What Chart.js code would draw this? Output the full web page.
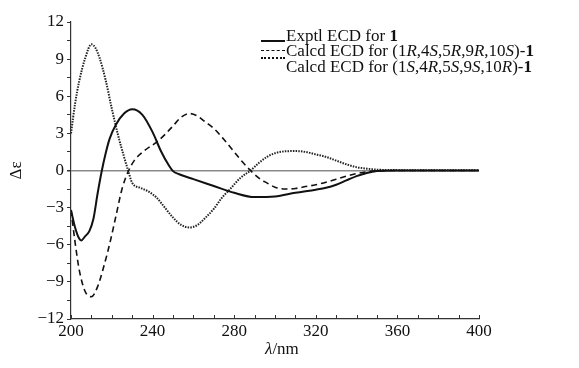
<!DOCTYPE html>
<html>
<head>
<meta charset="utf-8">
<script src="https://cdn.jsdelivr.net/npm/chart.js@4"></script>
<style>
  html, body { margin: 0; padding: 0; background: #fff; }
  #wrap { position: relative; width: 579px; height: 368px; font-family: "Liberation Serif", "DejaVu Serif", serif; color: #111; }
  canvas { display: block; }
  .lg { position: absolute; font-size: 17px; line-height: 17px; white-space: nowrap; }
  .sm { position: absolute; width: 24px; height: 0; }
  #xt { position: absolute; left: 265px; top: 339px; font-size: 17px; }
</style>
</head>
<body>
<div id="wrap">
  <canvas id="c" width="579" height="368"></canvas>
  <div class="sm" style="left:261px;top:40px;border-top:2px solid #111"></div>
  <div class="sm" style="left:261px;top:50px;border-top:1.5px dashed #111"></div>
  <div class="sm" style="left:261px;top:57px;border-top:2px dotted #111"></div>
  <div class="lg" style="left:286px;top:27px">Exptl ECD for <b>1</b></div>
  <div class="lg" style="left:286px;top:42px">Calcd ECD for (1<i>R</i>,4<i>S</i>,5<i>R</i>,9<i>R</i>,10<i>S</i>)-<b>1</b></div>
  <div class="lg" style="left:286px;top:58px">Calcd ECD for (1<i>S</i>,4<i>R</i>,5<i>S</i>,9<i>S</i>,10<i>R</i>)-<b>1</b></div>
  <div id="xt"><i>λ</i>/nm</div>
</div>
<script>
// ------------ Données ------------
const wlExp  = [200, 202, 204, 205, 207, 209, 211, 213, 215, 217, 219, 222, 226, 230, 235, 240, 244, 248, 250, 253, 260, 270, 280, 290, 300, 310, 320, 325, 330, 335, 340, 345, 350, 360, 380, 400];
const expVal = [-3.2, -4.6, -5.5, -5.65, -5.3, -4.9, -3.9, -1.9, -0.1, 1.4, 2.6, 3.7, 4.6, 4.95, 4.5, 3.1, 1.6, 0.4, -0.05, -0.3, -0.7, -1.25, -1.8, -2.15, -2.1, -1.8, -1.55, -1.4, -1.15, -0.8, -0.45, -0.2, -0.05, 0, 0, 0];

const wlCalcA  = [200, 202, 204, 207, 210, 213, 216, 219, 222, 225, 228, 231, 236, 242, 246, 250, 254, 258, 262, 266, 270, 275, 280, 284, 288, 292, 296, 300, 305, 310, 315, 320, 325, 330, 335, 340, 345, 350, 360, 380, 400];
const calcAVal = [-3.2, -5.8, -8.0, -9.8, -10.2, -9.4, -7.8, -5.9, -3.7, -1.5, -0.1, 0.8, 1.6, 2.3, 2.9, 3.6, 4.3, 4.6, 4.4, 3.9, 3.4, 2.5, 1.5, 0.7, 0, -0.6, -1.0, -1.35, -1.5, -1.45, -1.3, -1.15, -0.95, -0.7, -0.45, -0.25, -0.1, -0.02, 0, 0, 0];

const wlCalcB  = [200, 202, 204, 207, 210, 212, 214, 217, 220, 223, 226, 228, 230, 234, 238, 242, 246, 250, 254, 258, 262, 266, 270, 274, 278, 283, 288, 292, 296, 300, 305, 310, 315, 320, 325, 330, 335, 340, 345, 350, 360, 380, 400];
const calcBVal = [3.0, 5.4, 7.2, 9.1, 10.2, 9.9, 9.1, 7.3, 5.0, 2.9, 1.1, 0, -1.0, -1.4, -1.7, -2.2, -3.0, -3.8, -4.4, -4.6, -4.4, -3.8, -3.1, -2.2, -1.5, -0.6, 0, 0.6, 1.1, 1.4, 1.55, 1.57, 1.5, 1.3, 1.1, 0.8, 0.5, 0.27, 0.15, 0.07, 0.03, 0.02, 0.02];

const yTickLabels = [-12, -9, -6, -3, 0, 3, 6, 9, 12];
const xTickLabels = [200, 240, 280, 320, 360, 400];

function pts(xs, ys){ return xs.map((x, i) => ({ x, y: ys[i] })); }

// ticks vers l'intérieur pour l'axe des x
const innerTicks = {
  id: "innerTicks",
  afterDraw(chart){
    const x = chart.scales.x, a = chart.chartArea, ctx = chart.ctx;
    ctx.save();
    ctx.strokeStyle = "#333";
    ctx.lineWidth = 1;
    x.ticks.forEach(t => {
      const px = Math.round(x.getPixelForValue(t.value)) + 0.5;
      ctx.beginPath();
      ctx.moveTo(px, a.bottom);
      ctx.lineTo(px, a.bottom - 4);
      ctx.stroke();
    });
    ctx.restore();
  }
};

const font = { family: "'Liberation Serif', serif", size: 17 };

new Chart(document.getElementById("c"), {
  type: "line",
  data: {
    datasets: [
      { data: pts(wlExp, expVal), borderColor: "#111", borderWidth: 2 },
      { data: pts(wlCalcA, calcAVal), borderColor: "#111", borderWidth: 1.6, borderDash: [6, 4] },
      { data: pts(wlCalcB, calcBVal), borderColor: "#222", borderWidth: 2, borderDash: [1.5, 1.2] }
    ]
  },
  options: {
    responsive: false,
    animation: false,
    events: [],
    elements: { point: { radius: 0 }, line: { cubicInterpolationMode: "monotone" } },
    layout: { padding: { top: 22, right: 100, left: 0, bottom: 0 } },
    plugins: { legend: { display: false }, tooltip: { enabled: false } },
    scales: {
      x: {
        type: "linear", min: 200, max: 400,
        afterFit: s => { s.height = 49; },
        ticks: {
          stepSize: 10, autoSkip: false, maxRotation: 0, color: "#111", font, padding: 2,
          callback: v => xTickLabels.includes(v) ? String(v) : ""
        },
        grid: { drawOnChartArea: false, drawTicks: false },
        border: { color: "#333", width: 1.2 }
      },
      y: {
        min: -12, max: 12,
        afterFit: s => { s.width = 71; },
        ticks: {
          stepSize: 1.5, autoSkip: false, color: "#111", font, padding: 3,
          callback: v => yTickLabels.includes(v) ? String(v).replace("-", "\u2212") : ""
        },
        grid: {
          drawOnChartArea: true, tickLength: 4, tickColor: "#333",
          color: c => c.tick && c.tick.value === 0 ? "#8a8a8a" : "transparent",
          lineWidth: c => c.tick && c.tick.value === 0 ? 1.5 : 1
        },
        border: { color: "#333", width: 1.2 },
        title: { display: true, text: "Δε", color: "#111", font, padding: 6 }
      }
    }
  },
  plugins: [innerTicks]
});
</script>
</body>
</html>
